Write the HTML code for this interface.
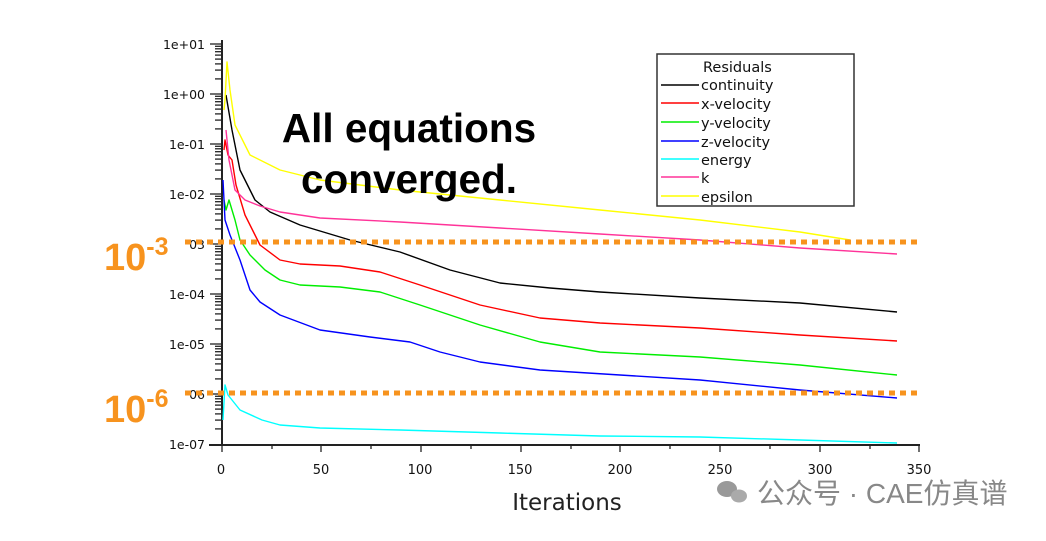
<!DOCTYPE html>
<html><head><meta charset="utf-8"><style>
body{margin:0;background:#fff;width:1046px;height:536px;overflow:hidden}
</style></head><body>
<svg width="1046" height="536" xmlns="http://www.w3.org/2000/svg" font-family="Liberation Sans, sans-serif">
<defs>
<g id="dec" stroke="#222" stroke-width="1.3">
<line x1="210" y1="0" x2="222" y2="0"/>
<line x1="215" y1="2.3" x2="222" y2="2.3"/>
<line x1="215" y1="4.8" x2="222" y2="4.8"/>
<line x1="215" y1="7.7" x2="222" y2="7.7"/>
<line x1="215" y1="11.1" x2="222" y2="11.1"/>
<line x1="215" y1="15.1" x2="222" y2="15.1"/>
<line x1="215" y1="19.9" x2="222" y2="19.9"/>
<line x1="215" y1="26.1" x2="222" y2="26.1"/>
<line x1="215" y1="34.9" x2="222" y2="34.9"/>
</g>
</defs>
<rect width="1046" height="536" fill="#fff"/>
<g stroke="#222" stroke-width="2" fill="none">
<line x1="222" y1="40" x2="222" y2="445"/>
<line x1="209" y1="445" x2="920" y2="445"/>
</g>
<use href="#dec" y="44"/><use href="#dec" y="94"/><use href="#dec" y="144"/><use href="#dec" y="194"/>
<use href="#dec" y="244"/><use href="#dec" y="294"/><use href="#dec" y="344"/><use href="#dec" y="394"/>
<g stroke="#222" stroke-width="1.3">
<line x1="222" y1="445" x2="222" y2="452"/><line x1="272" y1="445" x2="272" y2="449"/>
<line x1="321" y1="445" x2="321" y2="452"/><line x1="371" y1="445" x2="371" y2="449"/>
<line x1="421" y1="445" x2="421" y2="452"/><line x1="471" y1="445" x2="471" y2="449"/>
<line x1="521" y1="445" x2="521" y2="452"/><line x1="571" y1="445" x2="571" y2="449"/>
<line x1="620" y1="445" x2="620" y2="452"/><line x1="670" y1="445" x2="670" y2="449"/>
<line x1="720" y1="445" x2="720" y2="452"/><line x1="770" y1="445" x2="770" y2="449"/>
<line x1="820" y1="445" x2="820" y2="452"/><line x1="870" y1="445" x2="870" y2="449"/>
<line x1="919" y1="445" x2="919" y2="452"/>
</g>
<g font-size="12.5" fill="#111" text-anchor="end" font-family="DejaVu Sans, sans-serif">
<text x="205" y="49">1e+01</text><text x="205" y="99">1e+00</text><text x="205" y="149">1e-01</text>
<text x="205" y="199">1e-02</text><text x="205" y="249">03</text><text x="205" y="299">1e-04</text>
<text x="205" y="349">1e-05</text><text x="205" y="399">06</text><text x="205" y="449">1e-07</text>
</g>
<g font-size="13" fill="#111" text-anchor="middle" font-family="DejaVu Sans, sans-serif">
<text x="221" y="474">0</text><text x="321" y="474">50</text><text x="420" y="474">100</text><text x="520" y="474">150</text>
<text x="620" y="474">200</text><text x="720" y="474">250</text><text x="820" y="474">300</text><text x="919" y="474">350</text>
</g>
<text x="567" y="510" font-size="23" text-anchor="middle" fill="#222" font-family="DejaVu Sans, sans-serif">Iterations</text>
<g fill="none" stroke-width="1.4" stroke-linejoin="round">
<polyline stroke="#000" points="226,95 232,130 240,170 255,200 270,212 300,225 350,240 400,252 450,270 500,283 550,288 600,292 700,298 800,303 897,312"/>
<polyline stroke="#ff0000" points="224,150 225,140 228,155 232,160 236,185 245,215 260,245 280,260 300,264 340,266 380,272 420,285 480,305 540,318 600,323 700,328 800,335 897,341"/>
<polyline stroke="#00ee00" points="224,200 226,210 229,200 235,220 240,240 250,255 265,270 280,280 300,285 340,287 380,292 420,305 480,325 540,342 600,352 700,357 800,365 897,375"/>
<polyline stroke="#0000ff" points="223,180 225,220 230,235 240,260 250,290 260,302 280,315 320,330 370,337 410,342 440,352 480,362 540,370 620,375 700,380 800,390 897,398"/>
<polyline stroke="#00ffff" points="223,420 225,385 228,395 240,410 262,420 280,425 320,428 400,430 500,433 600,436 700,437 800,440 897,443"/>
<polyline stroke="#ff3399" points="226,130 229,160 235,190 245,200 260,206 280,212 320,218 400,222 500,228 600,234 700,240 800,248 897,254"/>
<polyline stroke="#ffff00" points="224,110 225,100 227,62 230,90 235,125 250,155 280,170 320,180 400,190 500,200 600,210 700,220 800,232 850,240"/>
</g>
<rect x="657" y="54" width="197" height="152" fill="#fff" stroke="#333" stroke-width="1.5"/>
<g font-size="14.5" fill="#111" font-family="DejaVu Sans, sans-serif">
<text x="703" y="72">Residuals</text>
<text x="701" y="90">continuity</text><text x="701" y="109">x-velocity</text><text x="701" y="128">y-velocity</text>
<text x="701" y="147">z-velocity</text><text x="701" y="165">energy</text><text x="701" y="183">k</text><text x="701" y="202">epsilon</text>
</g>
<g stroke-width="1.5">
<line x1="661" y1="85" x2="699" y2="85" stroke="#000"/><line x1="661" y1="103" x2="699" y2="103" stroke="#f00"/>
<line x1="661" y1="122" x2="699" y2="122" stroke="#0e0"/><line x1="661" y1="141" x2="699" y2="141" stroke="#00f"/>
<line x1="661" y1="159" x2="699" y2="159" stroke="#0ff"/><line x1="661" y1="177" x2="699" y2="177" stroke="#f39"/>
<line x1="661" y1="196" x2="699" y2="196" stroke="#ff0"/>
</g>
<g font-size="40.5" font-weight="bold" fill="#000" text-anchor="middle">
<text x="409" y="142">All equations</text><text x="409" y="193">converged.</text>
</g>
<g stroke="#f7931e" stroke-width="5" stroke-dasharray="6,5">
<line x1="185" y1="242" x2="920" y2="242"/><line x1="185" y1="393" x2="920" y2="393"/>
</g>
<g fill="#f7931e" font-weight="bold">
<text x="104" y="270" font-size="38">10<tspan font-size="25" dy="-15">-3</tspan></text>
<text x="104" y="422" font-size="38">10<tspan font-size="25" dy="-15">-6</tspan></text>
</g>
<g fill="#999"><ellipse cx="727" cy="489" rx="10" ry="8"/><ellipse cx="739" cy="496" rx="8" ry="6.5" fill="#aaa"/></g>
<text x="757" y="503" font-size="28" fill="#888" font-family="Liberation Sans, Noto Sans CJK SC, sans-serif">公众号 · CAE仿真谱</text>
</svg>
</body></html>
